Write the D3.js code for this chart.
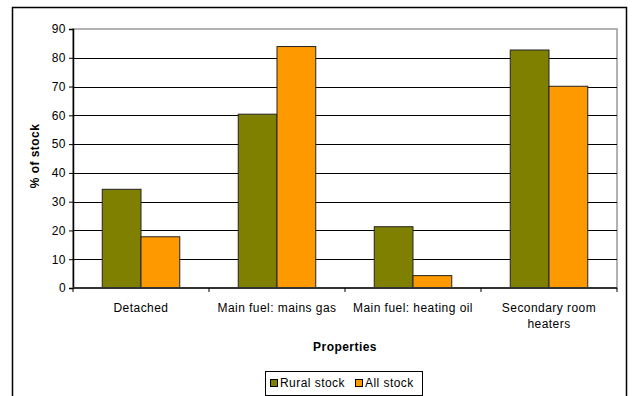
<!DOCTYPE html>
<html>
<head>
<meta charset="utf-8">
<script src="https://cdn.jsdelivr.net/npm/d3@7"></script>
<style>
  html, body { margin: 0; padding: 0; background: #fff; }
  svg { display: block; font-family: "Liberation Sans", Arial, sans-serif; }
  text { letter-spacing: 0.45px; }
</style>
</head>
<body>
<svg id="chart" width="632" height="396"></svg>
<script>
// Share of dwelling stock with each property characteristic
const categories = ["Detached", "Main fuel: mains gas", "Main fuel: heating oil", "Secondary room heaters"];
const categoryLines = [["Detached"], ["Main fuel: mains gas"], ["Main fuel: heating oil"], ["Secondary room", "heaters"]];
const seriesNames = ["Rural stock", "All stock"];
const ruralStock = [34.3, 60.4, 21.3, 82.7];
const allStock = [17.8, 83.9, 4.3, 70.1];
const yTicks = [0, 10, 20, 30, 40, 50, 60, 70, 80, 90];
const colors = ["#808000", "#ff9900"];

const svg = d3.select("#chart");
const plot = { left: 73, top: 29, right: 617, bottom: 288 };
const fs = 12;

// Outer chart frame
svg.append("rect")
  .attr("x", 12.5).attr("y", 7.5)
  .attr("width", 614).attr("height", 400)
  .attr("fill", "#fff").attr("stroke", "#000").attr("stroke-width", 1.5);

const x = d3.scaleBand().domain(categories).range([plot.left, plot.right]).paddingInner(0.43).paddingOuter(0.215);
const xOuter = d3.scaleBand().domain(categories).range([plot.left, plot.right]);
const y = d3.scaleLinear().domain([0, 90]).range([plot.bottom, plot.top]);
const xSub = d3.scaleBand().domain(seriesNames).range([0, x.bandwidth()]);

// Plot area outline (grey)
svg.append("rect")
  .attr("x", plot.left).attr("y", plot.top)
  .attr("width", plot.right - plot.left).attr("height", plot.bottom - plot.top)
  .attr("fill", "none").attr("stroke", "#999").attr("stroke-width", 1.5);

// Horizontal gridlines
svg.append("g").selectAll("line")
  .data(yTicks.filter(d => d > 0 && d < 90))
  .join("line")
  .attr("x1", plot.left).attr("x2", plot.right)
  .attr("y1", d => Math.round(y(d)) + 0.5).attr("y2", d => Math.round(y(d)) + 0.5)
  .attr("stroke", "#000").attr("stroke-width", 1);

// Bars
const groups = svg.append("g").selectAll("g")
  .data(categories)
  .join("g")
  .attr("transform", d => `translate(${x(d)},0)`);

groups.selectAll("rect")
  .data((d, i) => [ruralStock[i], allStock[i]].map((v, j) => ({ key: seriesNames[j], value: v, j })))
  .join("rect")
  .attr("x", d => xSub(d.key))
  .attr("y", d => y(d.value))
  .attr("width", xSub.bandwidth())
  .attr("height", d => y(0) - y(d.value))
  .attr("fill", d => colors[d.j])
  .attr("stroke", "#222").attr("stroke-width", 1);

// Y axis
const yAxis = svg.append("g")
  .attr("transform", `translate(${plot.left},0)`)
  .call(d3.axisLeft(y).tickValues(yTicks).tickSize(4).tickPadding(3).tickFormat(d3.format("d")));
yAxis.select(".domain").attr("stroke", "#000").attr("stroke-width", 1.5);
yAxis.selectAll(".tick line").attr("stroke", "#000");
yAxis.selectAll("text").attr("font-size", fs).attr("fill", "#000").attr("font-family", "Liberation Sans, Arial, sans-serif");

// X axis with ticks at category boundaries
const xAxisG = svg.append("g").attr("transform", `translate(0,${plot.bottom})`);
xAxisG.append("line")
  .attr("x1", plot.left).attr("x2", plot.right)
  .attr("stroke", "#333").attr("stroke-width", 2);
xAxisG.selectAll("line.tk")
  .data(categories.map(c => xOuter(c)).concat([plot.right]))
  .join("line").attr("class", "tk")
  .attr("x1", d => d).attr("x2", d => d)
  .attr("y1", 0).attr("y2", 4)
  .attr("stroke", "#000");

xAxisG.selectAll("text.cat")
  .data(categories)
  .join("text").attr("class", "cat")
  .attr("x", d => xOuter(d) + xOuter.bandwidth() / 2)
  .attr("y", 24)
  .attr("text-anchor", "middle")
  .attr("font-size", fs)
  .each(function (d, i) {
    d3.select(this).selectAll("tspan")
      .data(categoryLines[i])
      .join("tspan")
      .attr("x", xOuter(d) + xOuter.bandwidth() / 2)
      .attr("dy", (t, k) => k === 0 ? 0 : 16)
      .text(t => t);
  });

// Axis titles
svg.append("text")
  .attr("transform", `translate(39,${156}) rotate(-90)`)
  .attr("text-anchor", "middle")
  .attr("font-size", fs).attr("font-weight", "bold")
  .text("% of stock");

svg.append("text")
  .attr("x", (plot.left + plot.right) / 2)
  .attr("y", 351)
  .attr("text-anchor", "middle")
  .attr("font-size", fs).attr("font-weight", "bold")
  .text("Properties");

// Legend
const legend = svg.append("g");
legend.append("rect")
  .attr("x", 265.5).attr("y", 371.5).attr("width", 157).attr("height", 24)
  .attr("fill", "#fff").attr("stroke", "#000").attr("stroke-width", 1);
const legendX = [270, 355];
seriesNames.forEach((name, i) => {
  legend.append("rect")
    .attr("x", legendX[i] + 0.5).attr("y", 379.5).attr("width", 7).attr("height", 7)
    .attr("fill", colors[i]).attr("stroke", "#000");
  legend.append("text")
    .attr("x", legendX[i] + 10).attr("y", 387)
    .attr("font-size", fs)
    .text(name);
});
</script>
</body>
</html>
